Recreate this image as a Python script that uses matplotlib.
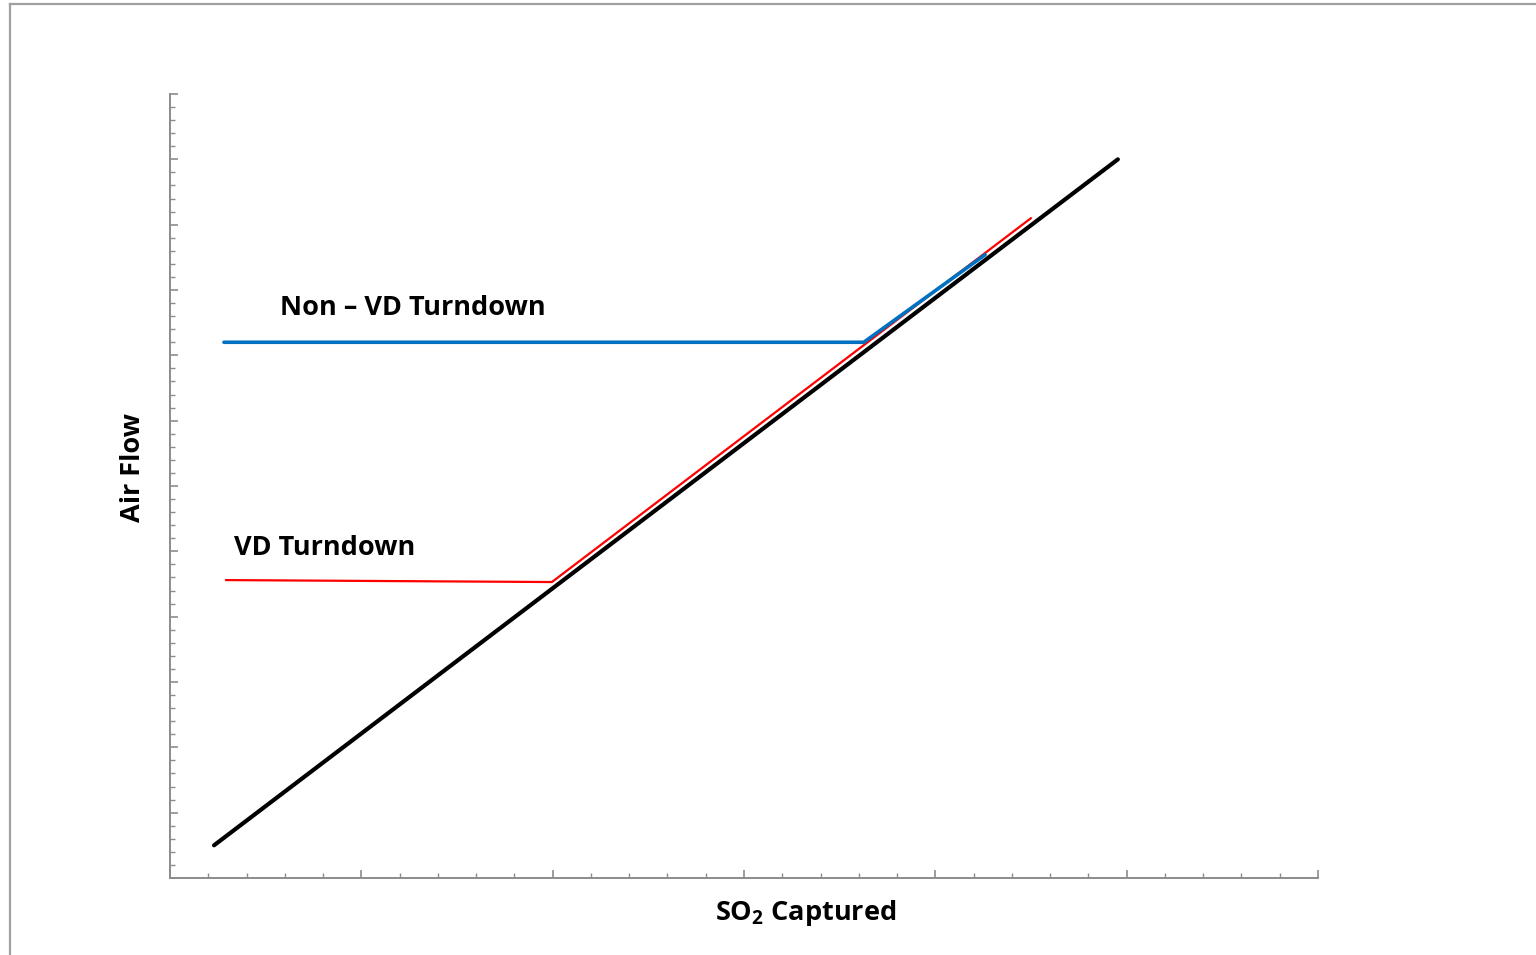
import matplotlib
matplotlib.use("Agg")
import matplotlib.pyplot as plt
from matplotlib.lines import Line2D
from matplotlib.ticker import MultipleLocator

# font settings (Calibri-like look)
plt.rcParams['font.family'] = ['Open Sans', 'DejaVu Sans']
plt.rcParams['mathtext.fontset'] = 'custom'
plt.rcParams['mathtext.rm'] = 'Open Sans:bold'
plt.rcParams['mathtext.bf'] = 'Open Sans:bold'

# data (axis units: x 0-30, y 0-60, no labels shown)
base_x = [1.15, 24.77]
base_y = [2.5, 55.0]

vd_x = [1.46, 9.98, 22.5]
vd_y = [22.8, 22.65, 50.5]

nonvd_x = [1.41, 18.13, 21.3]
nonvd_y = [41.0, 41.0, 47.7]

grey = '#8c8c8c'

fig = plt.figure(figsize=(15.36, 9.55), dpi=100)
fig.patch.set_facecolor('white')

# outer frame of the picture
fig.add_artist(Line2D([10 / 1536, 10 / 1536], [0, 1 - 4.5 / 955],
                      transform=fig.transFigure, color='#a0a0a0', lw=1.6))
fig.add_artist(Line2D([10 / 1536, 1], [1 - 4.5 / 955, 1 - 4.5 / 955],
                      transform=fig.transFigure, color='#a0a0a0', lw=1.6))

ax = fig.add_axes([170 / 1536, 77 / 955, 1148 / 1536, 784 / 955])
ax.set_xlim(0, 30)
ax.set_ylim(0, 60)

ax.plot(base_x, base_y, color='black', lw=3.0, solid_capstyle='round')
ax.plot(vd_x, vd_y, color='#ff0000', lw=1.6, solid_capstyle='round')
ax.plot(nonvd_x, nonvd_y, color='#0070c0', lw=2.6, solid_capstyle='round')

ax.text(2.87, 43.1, 'Non \u2013 VD Turndown', fontsize=19.5, fontweight='bold',
        ha='left', va='baseline')
ax.text(1.67, 24.7, 'VD Turndown', fontsize=19.5, fontweight='bold',
        ha='left', va='baseline')

# axes look
for side in ['top', 'right']:
    ax.spines[side].set_visible(False)
for side in ['left', 'bottom']:
    ax.spines[side].set_color(grey)
    ax.spines[side].set_linewidth(1.4)

ax.xaxis.set_major_locator(MultipleLocator(5))
ax.xaxis.set_minor_locator(MultipleLocator(1))
ax.yaxis.set_major_locator(MultipleLocator(5))
ax.yaxis.set_minor_locator(MultipleLocator(1))
ax.tick_params(which='major', direction='in', length=5.5, width=1.2,
               color=grey, labelbottom=False, labelleft=False)
ax.tick_params(which='minor', direction='in', length=3.5, width=1.0,
               color=grey)

fig.text(133 / 1536, 1 - 467 / 955, 'Air Flow', rotation=90, fontsize=19.5,
         fontweight='bold', ha='center', va='center')
fig.text(806 / 1536, 1 - 913 / 955, r'SO$_{2}$ Captured', fontsize=19.5,
         fontweight='bold', ha='center', va='center')

fig.savefig('out.png', dpi=100)
